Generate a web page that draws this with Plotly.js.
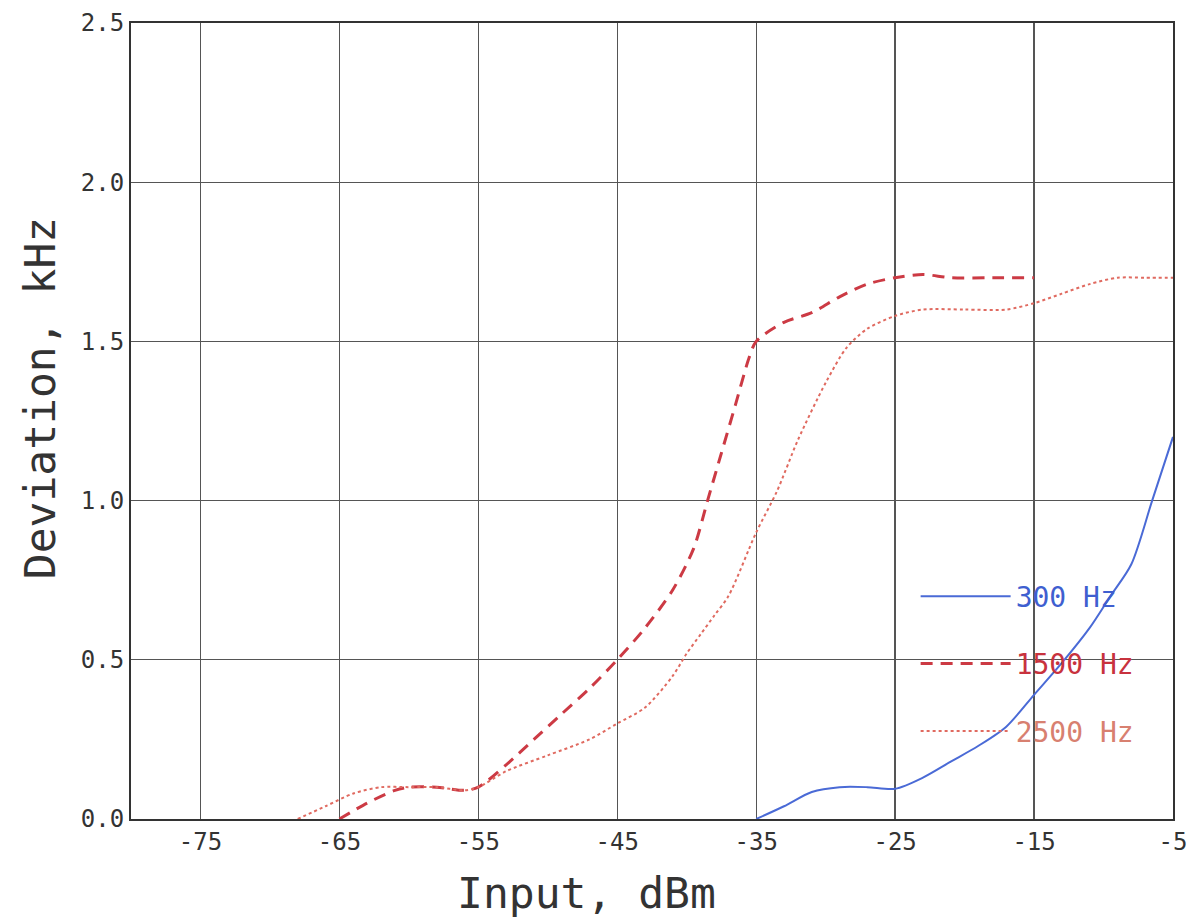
<!DOCTYPE html>
<html>
<head>
<meta charset="utf-8">
<script src="https://cdn.plot.ly/plotly-3.0.1.min.js"></script>
<style>html,body{margin:0;padding:0;background:#fff;}#chart{width:1197px;height:923px;}</style>
</head>
<body>
<div id="chart"></div>
<script>
// 300 Hz (solid blue)
const x300 = [-35, -33, -31, -29, -27, -25, -23, -21, -19, -17, -15, -13, -11, -9.5, -8, -6.5, -5];
const y300 = [0, 0.04, 0.085, 0.1, 0.1, 0.095, 0.13, 0.18, 0.23, 0.29, 0.39, 0.49, 0.6, 0.7, 0.8, 1.0, 1.2];
// 1500 Hz (dashed red)
const x1500 = [-65, -63, -61, -60, -58, -56, -55, -53, -51, -49, -47, -45, -43, -41, -39.5, -38.5, -37.5, -36.5, -35.5, -35, -33, -31, -29, -27, -25, -23, -21, -18, -15];
const y1500 = [0, 0.05, 0.09, 0.1, 0.1, 0.09, 0.1, 0.17, 0.25, 0.33, 0.41, 0.5, 0.6, 0.72, 0.85, 1.0, 1.15, 1.3, 1.45, 1.5, 1.56, 1.59, 1.64, 1.68, 1.7, 1.71, 1.7, 1.7, 1.7];
// 2500 Hz (dotted salmon)
const x2500 = [-68, -66, -64, -62, -60, -58, -56, -55, -53, -50, -47, -45, -43, -41, -40, -39, -38, -37, -35, -33.5, -32, -30, -28.5, -27, -25, -23, -20, -17, -15, -13, -11, -9, -7, -5];
const y2500 = [0, 0.04, 0.08, 0.1, 0.1, 0.1, 0.09, 0.1, 0.15, 0.2, 0.25, 0.3, 0.35, 0.45, 0.52, 0.58, 0.64, 0.7, 0.9, 1.03, 1.19, 1.37, 1.48, 1.54, 1.58, 1.6, 1.6, 1.6, 1.62, 1.65, 1.68, 1.7, 1.7, 1.7];

const xTicks = [-75, -65, -55, -45, -35, -25, -15, -5];
const yTicks = [0, 0.5, 1.0, 1.5, 2.0, 2.5];
const yTickText = ['0.0', '0.5', '1.0', '1.5', '2.0', '2.5'];
const xTitle = 'Input, dBm';
const yTitle = 'Deviation, kHz';

const FONT = '"DejaVu Sans Mono", "Liberation Mono", monospace';

const traces = [
  {x: x300, y: y300, mode: 'lines', name: '<span style="color:#3f5fd0">300 Hz</span>',
   line: {color: '#4a6ad6', width: 2, dash: 'solid', shape: 'spline', smoothing: 0.8},
   legendgroup: 'a'},
  {x: x1500, y: y1500, mode: 'lines', name: '<span style="color:#c8323e">1500 Hz</span>',
   line: {color: '#cc3a44', width: 3, dash: '12px,8px', shape: 'spline', smoothing: 0.8},
   legendgroup: 'b'},
  {x: x2500, y: y2500, mode: 'lines', name: '<span style="color:#d88070">2500 Hz</span>',
   line: {color: '#e06a60', width: 2, dash: 'dot', shape: 'spline', smoothing: 0.8},
   legendgroup: 'c'}
];

const layout = {
  width: 1197, height: 923,
  margin: {l: 131, r: 24, t: 23, b: 104},
  paper_bgcolor: '#fff', plot_bgcolor: '#fff',
  font: {family: FONT, color: '#333'},
  showlegend: true,
  legend: {x: 0.753, y: 0.311, xanchor: 'left', yanchor: 'top',
           bgcolor: 'rgba(0,0,0,0)', borderwidth: 0,
           font: {family: FONT, size: 28},
           itemwidth: 90, traceorder: 'grouped', tracegroupgap: 28},
  xaxis: {
    range: [-80, -5], tickvals: xTicks, ticktext: xTicks.map(String),
    showgrid: true, gridcolor: '#555', gridwidth: 1.3,
    showline: true, linecolor: '#333', linewidth: 2, mirror: true,
    ticks: '', zeroline: false,
    tickfont: {family: FONT, size: 24, color: '#333'}
  },
  yaxis: {
    range: [0, 2.5], tickvals: yTicks, ticktext: yTickText,
    showgrid: true, gridcolor: '#555', gridwidth: 1.3,
    showline: true, linecolor: '#333', linewidth: 2, mirror: true,
    ticks: '', zeroline: false,
    tickfont: {family: FONT, size: 24, color: '#333'}
  },
  annotations: [
    {text: xTitle, xref: 'paper', yref: 'paper', x: 0.4376, y: -0.093,
     xanchor: 'center', yanchor: 'middle', showarrow: false,
     font: {family: FONT, size: 43, color: '#333'}},
    {text: yTitle, xref: 'paper', yref: 'paper', x: -0.087, y: 0.529,
     xanchor: 'center', yanchor: 'middle', showarrow: false, textangle: -90,
     font: {family: FONT, size: 43, color: '#333'}}
  ]
};

Plotly.newPlot('chart', traces, layout, {displayModeBar: false, staticPlot: true});
</script>
</body>
</html>
